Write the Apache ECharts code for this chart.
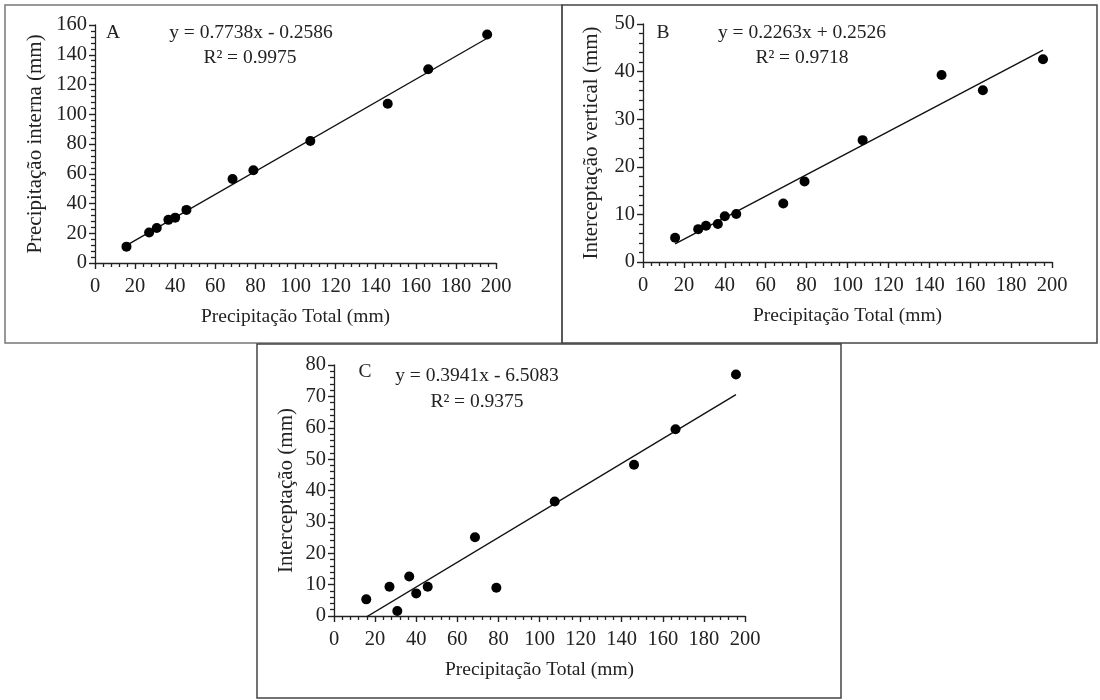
<!DOCTYPE html>
<html>
<head>
<meta charset="utf-8">
<script src="https://cdn.jsdelivr.net/npm/echarts@6/dist/echarts.min.js"></script>
<style>
html,body{margin:0;padding:0;background:#fff;}
#chart{width:1100px;height:700px;}
</style>
</head>
<body>
<div id="chart"></div>
<script>
// ---- data ----
const totalPrecip = [15.7, 27, 30.8, 36.6, 40, 45.6, 68.6, 79, 107.4, 146, 166.2, 195.6];
const internalPrecip = [11, 20.5, 23.5, 29, 30.5, 35.7, 56.5, 62.3, 82, 107, 130.2, 153.6];
const verticalInterception = [5.1, 6.9, 7.6, 8.0, 9.6, 10.1, 12.3, 16.9, 25.6, 39.3, 36.1, 42.6];
const interception = [5.3, 9.3, 1.6, 12.6, 7.2, 9.3, 25.1, 9.0, 36.5, 48.2, 59.5, 77.0];

const panelLetters = ['A', 'B', 'C'];
const slopes = [0.7738, 0.2263, 0.3941];
const intercepts = [-0.2586, 0.2526, -6.5083];
const equations = ['y = 0.7738x - 0.2586', 'y = 0.2263x + 0.2526', 'y = 0.3941x - 6.5083'];
const r2Labels = ['R² = 0.9975', 'R² = 0.9718', 'R² = 0.9375'];
const xAxisName = 'Precipitação Total (mm)';
const yAxisNames = ['Precipitação interna (mm)', 'Interceptação vertical (mm)', 'Interceptação (mm)'];
const yMax = [160, 50, 80];
const yInterval = [20, 10, 10];

const seriesValues = [internalPrecip, verticalInterception, interception];

const FONT = '"Liberation Serif", "Times New Roman", serif';
const TXT = '#222';

const grids = [
  {left: 95, width: 401, top: 25, height: 238},
  {left: 643, width: 409, top: 24, height: 238},
  {left: 334, width: 411, top: 365, height: 251}
];
const yNameGaps = [49, 41, 37];

const xAxes = [], yAxes = [], series = [];
grids.forEach((g, i) => {
  xAxes.push({
    type: 'value', gridIndex: i, min: 0, max: 200, interval: 20,
    name: xAxisName, nameLocation: 'middle', nameGap: 44,
    nameTextStyle: {fontFamily: FONT, fontSize: 19.5, color: TXT},
    axisLine: {lineStyle: {color: '#222', width: 1.3}},
    axisTick: {show: true, length: 6, lineStyle: {color: '#222', width: 1.4}},
    minorTick: {show: true, splitNumber: 5, length: 4, lineStyle: {color: '#222', width: 1.3}},
    axisLabel: {fontFamily: FONT, fontSize: 20.5, color: TXT, margin: 13},
    splitLine: {show: false}
  });
  yAxes.push({
    type: 'value', gridIndex: i, min: 0, max: yMax[i], interval: yInterval[i],
    name: yAxisNames[i], nameLocation: 'middle', nameGap: yNameGaps[i], nameRotate: 90,
    nameTextStyle: {fontFamily: FONT, fontSize: 21, color: TXT},
    axisLine: {show: true, lineStyle: {color: '#222', width: 1.3}},
    axisTick: {show: true, length: 6, lineStyle: {color: '#222', width: 1.4}},
    minorTick: {show: true, splitNumber: 5, length: 4, lineStyle: {color: '#222', width: 1.3}},
    axisLabel: {fontFamily: FONT, fontSize: 20.5, color: TXT, margin: 8},
    splitLine: {show: false}
  });
  const vals = seriesValues[i];
  series.push({
    type: 'scatter', xAxisIndex: i, yAxisIndex: i,
    data: totalPrecip.map((x, k) => [x, vals[k]]),
    symbol: 'circle', symbolSize: 10,
    itemStyle: {color: '#000', opacity: 1}, z: 3, silent: true
  });
  const xmin = Math.min(...totalPrecip), xmax = Math.max(...totalPrecip);
  series.push({
    type: 'line', xAxisIndex: i, yAxisIndex: i,
    data: [[xmin, slopes[i] * xmin + intercepts[i]], [xmax, slopes[i] * xmax + intercepts[i]]],
    symbol: 'none', clip: true,
    lineStyle: {color: '#111', width: 1.4}, z: 2, silent: true
  });
});

// panel frames and annotations
const boxes = [
  {x: 5, y: 5, w: 557, h: 338, c: '#777'},
  {x: 562, y: 5, w: 535, h: 338, c: '#444'},
  {x: 257, y: 344, w: 584, h: 354, c: '#444'}
];
const letterPos = [[113, 33], [663, 33], [365, 372]];
const eqPos = [[251, 33], [802, 33], [477, 376]];
const r2Pos = [[250, 58], [802, 58], [477, 402]];

const graphic = [];
boxes.forEach(b => graphic.push({
  type: 'rect', shape: {x: b.x, y: b.y, width: b.w, height: b.h},
  style: {fill: 'none', stroke: b.c, lineWidth: 1.5}, z: 0, silent: true
}));
function txt(t, p, size) {
  return {
    type: 'text', x: p[0], y: p[1], z: 10, silent: true,
    style: {text: t, font: size + 'px ' + FONT, fill: TXT,
      textAlign: 'center', textVerticalAlign: 'middle', align: 'center', verticalAlign: 'middle'}
  };
}
for (let i = 0; i < 3; i++) {
  graphic.push(txt(panelLetters[i], letterPos[i], 19.5));
  graphic.push(txt(equations[i], eqPos[i], 19.5));
  graphic.push(txt(r2Labels[i], r2Pos[i], 19.5));
}

const chart = echarts.init(document.getElementById('chart'), null, {renderer: 'canvas'});
chart.setOption({
  animation: false,
  backgroundColor: '#fff',
  grid: grids.map(g => Object.assign({containLabel: false}, g)),
  xAxis: xAxes,
  yAxis: yAxes,
  series: series,
  graphic: graphic
});
</script>
</body>
</html>
